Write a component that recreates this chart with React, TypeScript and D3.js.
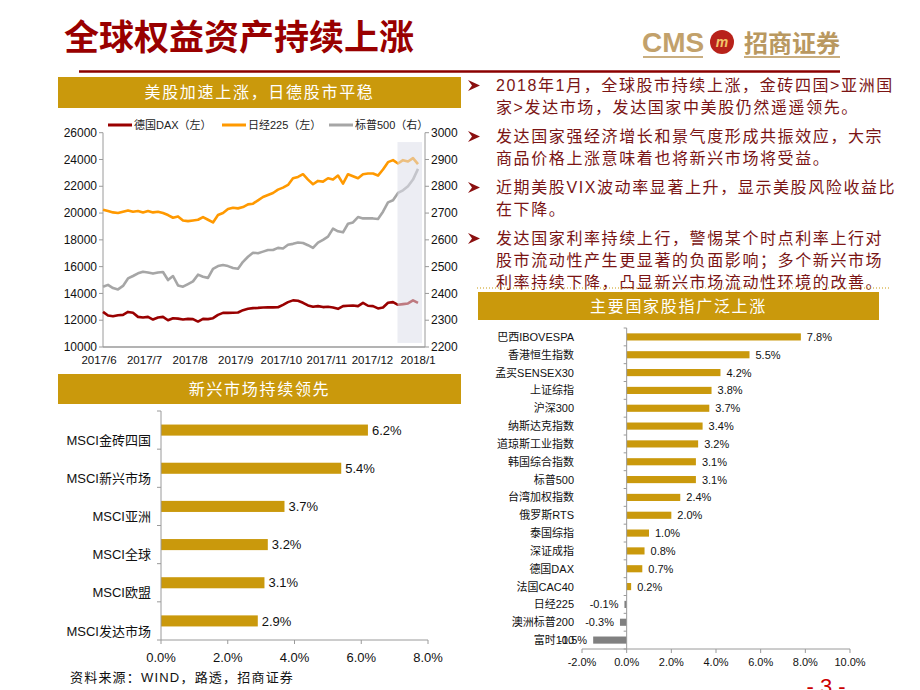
import { line, range, scaleBand, scaleLinear, scalePoint } from "d3";

// 走势图（德国DAX / 日经225 左轴，标普500 右轴）
const monthLabels = ["2017/6", "2017/7", "2017/8", "2017/9", "2017/10", "2017/11", "2017/12", "2018/1"];
const dax = [
  12620, 12350, 12300, 12375, 12400, 12620, 12550, 12250, 12200, 12250,
  12050, 12200, 12250, 12000, 12150, 12120, 12050, 12100, 12080, 11900,
  12100, 12080, 12150, 12400, 12550, 12550, 12560, 12580, 12750, 12850,
  12900, 12920, 12950, 12960, 12960, 12970, 13150, 13350, 13480, 13450,
  13300, 13100, 13000, 13050, 12980, 13000, 12950, 12850, 13050, 13080,
  13100, 13050, 13300, 13080, 13050, 12880, 12950, 13300, 13350, 13150,
  13200, 13250, 13480, 13300,
];
const nikkei = [
  20250, 20150, 20050, 20000, 20100, 20200, 20100, 20150, 20050, 20150,
  20050, 20100, 20000, 19850, 19650, 19750, 19450, 19400, 19450, 19500,
  19700, 19500, 19300, 19850, 20000, 20300, 20400, 20350, 20450, 20650,
  20700, 20950, 21200, 21350, 21500, 21750, 21900, 22100, 22600, 22700,
  22900, 22500, 22150, 22400, 22350, 22600, 22500, 22800, 22200, 22900,
  22750, 22600, 22900, 22950, 22950, 22800, 23250, 23800, 23950, 23700,
  23950, 23850, 24100, 23650,
];
const sp500 = [
  2425, 2432, 2420, 2415, 2428, 2456, 2465, 2475, 2481, 2478,
  2474, 2478, 2480, 2450, 2465, 2430, 2425, 2435, 2445, 2470,
  2462, 2458, 2492, 2502, 2506, 2502, 2495, 2492, 2518, 2537,
  2552, 2550, 2556, 2562, 2562, 2570, 2568, 2582, 2585, 2590,
  2588, 2580, 2570, 2590, 2600, 2612, 2642, 2632, 2628, 2660,
  2665, 2685, 2680, 2680, 2680, 2678, 2705, 2740, 2748, 2775,
  2785, 2800, 2825, 2865,
];
const highlightFrom = 59;
const leftTicks = range(10000, 26001, 2000);
const rightTicks = range(2200, 3001, 100);

// 新兴市场持续领先
const msciNames = ["MSCI金砖四国", "MSCI新兴市场", "MSCI亚洲", "MSCI全球", "MSCI欧盟", "MSCI发达市场"];
const msciValues = [6.2, 5.4, 3.7, 3.2, 3.1, 2.9];
const msciTicks = [0, 2, 4, 6, 8];

// 主要国家股指广泛上涨
const indexNames = [
  "巴西IBOVESPA", "香港恒生指数", "孟买SENSEX30", "上证综指", "沪深300", "纳斯达克指数",
  "道琼斯工业指数", "韩国综合指数", "标普500", "台湾加权指数", "俄罗斯RTS", "泰国综指",
  "深证成指", "德国DAX", "法国CAC40", "日经225", "澳洲标普200", "富时100",
];
const indexValues = [7.8, 5.5, 4.2, 3.8, 3.7, 3.4, 3.2, 3.1, 3.1, 2.4, 2.0, 1.0, 0.8, 0.7, 0.2, -0.1, -0.3, -1.5];
const indexTicks = [-2, 0, 2, 4, 6, 8, 10];

const bullets = [
  ["2018年1月，全球股市持续上涨，金砖四国>亚洲国", "家>发达市场，发达国家中美股仍然遥遥领先。"],
  ["发达国家强经济增长和景气度形成共振效应，大宗", "商品价格上涨意味着也将新兴市场将受益。"],
  ["近期美股VIX波动率显著上升，显示美股风险收益比", "在下降。"],
  ["发达国家利率持续上行，警惕某个时点利率上行对", "股市流动性产生更显著的负面影响；多个新兴市场", "利率持续下降，凸显新兴市场流动性环境的改善。"],
];

const CJK = "'Noto Sans CJK SC', sans-serif";
const MIX = "'Liberation Sans', 'Noto Sans CJK SC', sans-serif";
const GOLD = "#CA990C";
const MAROON = "#990000";
const AXIS = "#9a9a9a";
const pct = (v: number) => `${v.toFixed(1)}%`;

function Banner({ x, y, w, h, text }: { x: number; y: number; w: number; h: number; text: string }) {
  return (
    <g>
      <rect x={x} y={y} width={w} height={h} fill={GOLD} />
      <text
        x={x + w / 2}
        y={y + h / 2}
        dy="0.36em"
        textAnchor="middle"
        fill="#fff"
        fontFamily={CJK}
        fontSize={16}
        letterSpacing={1.7}
      >
        {text}
      </text>
    </g>
  );
}

function LineChart() {
  const x = scaleLinear().domain([0, dax.length - 1]).range([103, 418]);
  const xLab = scalePoint<string>().domain(monthLabels).range([99, 418]);
  const yL = scaleLinear().domain([10000, 26000]).range([347, 132.7]);
  const yR = scaleLinear().domain([2200, 3000]).range([347, 132.7]);

  const leftLine = line<number>().x((_, i) => x(i)).y((v) => yL(v));
  const rightLine = line<number>().x((_, i) => x(i)).y((v) => yR(v));

  const legend = [
    { name: "德国DAX（左）", color: MAROON, x0: 108 },
    { name: "日经225（左）", color: "#FF9900", x0: 222 },
    { name: "标普500（右）", color: "#A6A6A6", x0: 329 },
  ];

  return (
    <g>
      {legend.map((d) => (
        <g key={d.name}>
          <line x1={d.x0} x2={d.x0 + 24} y1={125} y2={125} stroke={d.color} strokeWidth={3} />
          <text x={d.x0 + 26} y={125} dy="0.35em" fontFamily={MIX} fontSize={11} fill="#222">
            {d.name}
          </text>
        </g>
      ))}

      <line x1={103} x2={103} y1={132.7} y2={347} stroke={AXIS} />
      <line x1={425} x2={425} y1={132.7} y2={347} stroke={AXIS} />
      <line x1={103} x2={425} y1={347} y2={347} stroke={AXIS} strokeWidth={1.5} />
      {leftTicks.map((t) => (
        <g key={`l${t}`}>
          <line x1={99} x2={103} y1={yL(t)} y2={yL(t)} stroke={AXIS} />
          <text x={97} y={yL(t)} dy="0.35em" textAnchor="end" fontFamily={MIX} fontSize={12} fill="#111">
            {t}
          </text>
        </g>
      ))}
      {rightTicks.map((t) => (
        <g key={`r${t}`}>
          <line x1={425} x2={429} y1={yR(t)} y2={yR(t)} stroke={AXIS} />
          <text x={431} y={yR(t)} dy="0.35em" fontFamily={MIX} fontSize={12} fill="#111">
            {t}
          </text>
        </g>
      ))}
      {monthLabels.map((m) => (
        <text key={m} x={xLab(m)} y={364} textAnchor="middle" fontFamily={MIX} fontSize={11.5} fill="#111">
          {m}
        </text>
      ))}

      <path d={rightLine(sp500) ?? ""} fill="none" stroke="#A6A6A6" strokeWidth={2.6} strokeLinejoin="round" />
      <path d={leftLine(nikkei) ?? ""} fill="none" stroke="#FF9900" strokeWidth={2.6} strokeLinejoin="round" />
      <path d={leftLine(dax) ?? ""} fill="none" stroke={MAROON} strokeWidth={2.6} strokeLinejoin="round" />

      <rect
        x={x(highlightFrom) - 0.5}
        y={yL(25300)}
        width={x(dax.length - 1) + 4.5 - x(highlightFrom)}
        height={yL(10300) - yL(25300)}
        fill="#dcdee9"
        opacity={0.55}
      />
    </g>
  );
}

function MsciChart() {
  const y = scaleBand<string>().domain(msciNames).range([411, 640]).paddingInner(0.71).paddingOuter(0.355);
  const x = scaleLinear().domain([0, 8]).range([161, 428]);
  const step = y.step();
  return (
    <g>
      {msciNames.map((n, i) => {
        const v = msciValues[i];
        const cy = (y(n) ?? 0) + y.bandwidth() / 2;
        return (
          <g key={n}>
            <rect x={x(0)} y={y(n)} width={x(v) - x(0)} height={y.bandwidth()} fill={GOLD} />
            <text x={x(v) + 4} y={cy} dy="0.36em" fontFamily={MIX} fontSize={13} fill="#111">
              {pct(v)}
            </text>
            <text x={151} y={cy + 10} dy="0.36em" textAnchor="end" fontFamily={MIX} fontSize={13} fill="#111">
              {n}
            </text>
          </g>
        );
      })}
      <line x1={x(0)} x2={x(0)} y1={411} y2={640} stroke={AXIS} />
      {range(msciNames.length + 1).map((i) => (
        <line key={i} x1={x(0) - 4} x2={x(0)} y1={411 + i * step} y2={411 + i * step} stroke={AXIS} />
      ))}
      <line x1={x(0)} x2={x(8)} y1={640} y2={640} stroke={AXIS} />
      {msciTicks.map((t) => (
        <g key={t}>
          <line x1={x(t)} x2={x(t)} y1={640} y2={644} stroke={AXIS} />
          <text x={x(t)} y={662} textAnchor="middle" fontFamily={MIX} fontSize={13} fill="#111">
            {pct(t)}
          </text>
        </g>
      ))}
    </g>
  );
}

function IndexChart() {
  const y = scaleBand<string>().domain(indexNames).range([328, 649]).paddingInner(0.6).paddingOuter(0.3);
  const x = scaleLinear().domain([-2, 10]).range([582, 850]);
  const step = y.step();
  return (
    <g>
      {indexNames.map((n, i) => {
        const v = indexValues[i];
        const cy = (y(n) ?? 0) + y.bandwidth() / 2;
        const neg = v < 0;
        return (
          <g key={n}>
            <rect
              x={Math.min(x(0), x(v))}
              y={y(n)}
              width={Math.abs(x(v) - x(0))}
              height={y.bandwidth()}
              fill={neg ? "#808080" : GOLD}
            />
            <text x={574} y={cy} dy="0.36em" textAnchor="end" fontFamily={MIX} fontSize={11} fill="#111">
              {n}
            </text>
            <text
              x={neg ? x(v) - 6 : x(v) + 6}
              y={cy}
              dy="0.36em"
              textAnchor={neg ? "end" : "start"}
              fontFamily={MIX}
              fontSize={11}
              fill="#111"
            >
              {pct(v)}
            </text>
          </g>
        );
      })}
      <line x1={x(0)} x2={x(0)} y1={328} y2={649} stroke={AXIS} />
      {range(indexNames.length + 1).map((i) => (
        <line key={i} x1={x(0) - 3} x2={x(0)} y1={328 + i * step} y2={328 + i * step} stroke={AXIS} />
      ))}
      <line x1={x(-2)} x2={x(10)} y1={649} y2={649} stroke={AXIS} />
      {indexTicks.map((t) => (
        <g key={t}>
          <line x1={x(t)} x2={x(t)} y1={649} y2={653} stroke={AXIS} />
          <text x={x(t)} y={666} textAnchor="middle" fontFamily={MIX} fontSize={11} fill="#111">
            {pct(t)}
          </text>
        </g>
      ))}
    </g>
  );
}

function Bullets() {
  const lineH = 22;
  const gap = 7;
  let yy = 91;
  const out: JSX.Element[] = [];
  bullets.forEach((group, gi) => {
    out.push(
      <path
        key={`b${gi}`}
        d={`M468,${yy - 11} L480,${yy - 5.5} L468,${yy} L472,${yy - 5.5} Z`}
        fill="#8B1010"
      />
    );
    group.forEach((t, li) => {
      out.push(
        <text
          key={`t${gi}-${li}`}
          x={496}
          y={yy + li * lineH}
          fontFamily={MIX}
          fontSize={16}
          letterSpacing={1.6}
          fill="#7a1414"
        >
          {t}
        </text>
      );
    });
    yy += group.length * lineH + gap;
  });
  return <g>{out}</g>;
}

export default function App() {
  return (
    <div style={{ position: "absolute", left: 0, top: 0 }}>
      <svg width={920} height={690} viewBox="0 0 920 690" style={{ display: "block", background: "#fff" }}>
        <text x={64} y={50} fontFamily={CJK} fontSize={35} fontWeight={700} fill={MAROON}>
          全球权益资产持续上涨
        </text>

        <text x={642} y={52} fontFamily={MIX} fontSize={28} fontWeight={700} fill="#C2A16B">
          CMS
        </text>
        <circle cx={722} cy={42} r={12} fill="#B8221A" />
        <text x={722} y={47} textAnchor="middle" fontFamily={MIX} fontSize={14} fontStyle="italic" fontWeight={700} fill="#F2C46A">
          m
        </text>
        <text x={744} y={52} fontFamily={CJK} fontSize={24} fontWeight={700} fill="#B99860">
          招商证券
        </text>
        <line x1={643} x2={703} y1={57} y2={57} stroke="#C9AE80" strokeWidth={2} />
        <line x1={744} x2={840} y1={57} y2={57} stroke="#C9AE80" strokeWidth={2} />

        <line x1={79} x2={840} y1={71.5} y2={71.5} stroke="#8B0000" strokeWidth={2.5} />

        <Banner x={58} y={77} w={403} h={31} text="美股加速上涨，日德股市平稳" />
        <LineChart />

        <Banner x={58} y={374} w={403} h={30} text="新兴市场持续领先" />
        <MsciChart />

        <Bullets />
        <line x1={477} x2={890} y1={288} y2={288} stroke={GOLD} strokeDasharray="1,2" />

        <Banner x={478} y={292} w={401} h={28} text="主要国家股指广泛上涨" />
        <IndexChart />

        <text x={70} y={682} fontFamily={MIX} fontSize={13} letterSpacing={1.2} fill="#111">
          资料来源：WIND，路透，招商证券
        </text>
        <text x={826} y={694} textAnchor="middle" fontFamily={MIX} fontSize={22} fill="#CC0000">
          - 3 -
        </text>
      </svg>
    </div>
  );
}
